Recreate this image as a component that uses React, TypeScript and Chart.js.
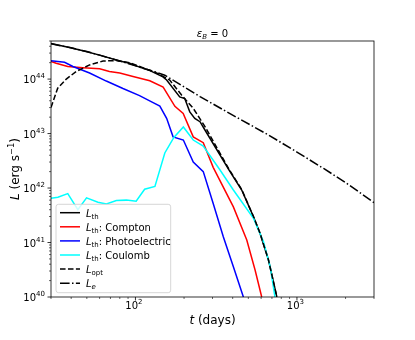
import React, { useEffect, useRef } from "react";
import { Chart, registerables } from "chart.js";

Chart.register(...registerables);

// ---- data (t in days, L in erg/s) ----
const T_TH = [30, 39, 47.3, 60, 80, 92, 106, 123, 148, 156, 188, 202, 217, 233, 251, 270, 380, 455, 538, 591, 666, 751];
const L_TH = [4.5e44, 3.8e44, 3.3e44, 2.75e44, 2.15e44, 1.95e44, 1.66e44, 1.43e44, 1.1e44, 9.6e43, 4.7e43, 4.4e43, 2.5e43, 1.9e43, 1.65e43, 1.15e43, 2.14e42, 9.2e41, 2.97e41, 1.47e41, 4.8e40, 1e40];

const T_COMPTON = [30, 32.3, 38.1, 47.3, 60, 69, 80, 96.6, 122.7, 148.4, 175.5, 197.5, 228, 263, 303, 404, 489, 551, 605];
const L_COMPTON = [2.11e44, 1.95e44, 1.7e44, 1.62e44, 1.55e44, 1.38e44, 1.29e44, 1.12e44, 9.3e43, 7.1e43, 3.16e43, 2.34e43, 8.7e42, 6.8e42, 2.4e42, 4.5e41, 1.11e41, 3.1e40, 1e40];

const T_PHOTO = [30, 36.4, 41, 52, 66, 83.7, 106, 128.6, 141.6, 156, 171, 198, 228, 263, 303, 350, 404, 466];
const L_PHOTO = [2.17e44, 2.04e44, 1.7e44, 1.29e44, 9.2e43, 6.7e43, 4.98e43, 3.7e43, 3.2e43, 1.9e43, 8.7e42, 7.6e42, 3.0e42, 2.0e42, 5.2e41, 1.28e41, 3.6e40, 1e40];

const T_COULOMB = [30, 33.1, 38.1, 44, 49.8, 58.6, 66.1, 76.2, 87.9, 101, 114, 132, 152, 173, 198, 228, 263, 334, 404, 538, 620, 683, 731];
const L_COULOMB = [6.5e41, 6.8e41, 7.9e41, 4.0e41, 6.6e41, 5.5e41, 5.1e41, 5.9e41, 6.0e41, 5.75e41, 9.5e41, 1.07e42, 4.4e42, 8.5e42, 1.32e43, 7.6e42, 5.9e42, 2.14e42, 9.2e41, 2.78e41, 1.04e41, 3.6e40, 1e40];

const T_OPT = [30, 33, 37.3, 43, 52, 63, 76, 92, 111, 135, 148, 163, 193, 228, 270, 380, 455, 538, 591, 666, 751];
const L_OPT = [3.0e43, 6.8e43, 1.0e44, 1.38e44, 1.82e44, 2.14e44, 2.19e44, 2.0e44, 1.62e44, 1.3e44, 1.12e44, 9.6e43, 5.1e43, 2.9e43, 1.33e43, 2.2e42, 9.4e41, 3.0e41, 1.48e41, 4.8e40, 1e40];

const T_E = [30, 40, 50, 60, 80, 106, 123, 152, 251, 385, 667, 1000, 1462, 2000, 3000];
const L_E = [4.45e44, 3.75e44, 3.2e44, 2.75e44, 2.15e44, 1.66e44, 1.45e44, 1.18e44, 4.77e43, 2.32e43, 9.4e42, 4.57e42, 2.29e42, 1.26e42, 5.4e41];

const LEGEND_SUB = ["th", "th", "th", "th", "opt", "e"];
const LEGEND_SUB_ITALIC = [false, false, false, false, false, true];
const LEGEND_SUFFIX = ["", ": Compton", ": Photoelectric", ": Coulomb", "", ""];

const X_MIN = 30, X_MAX = 3000;
const Y_MIN = 1e40, Y_MAX = 5e44;

const FONT = '"DejaVu Sans"';

type Part = { t: string; s: number; it?: boolean; dy?: number };

function fontOf(p: Part) {
  return `${p.it ? "italic " : ""}${p.s}px ${FONT}`;
}
function richWidth(ctx: CanvasRenderingContext2D, parts: Part[]) {
  let w = 0;
  for (const p of parts) {
    ctx.font = fontOf(p);
    w += ctx.measureText(p.t).width;
  }
  return w;
}
function drawRich(ctx: CanvasRenderingContext2D, parts: Part[], x: number, y: number, align: "left" | "center" | "right") {
  const w = richWidth(ctx, parts);
  let cx = align === "left" ? x : align === "center" ? x - w / 2 : x - w;
  ctx.textAlign = "left";
  ctx.textBaseline = "alphabetic";
  for (const p of parts) {
    ctx.font = fontOf(p);
    ctx.fillText(p.t, cx, y + (p.dy || 0));
    cx += ctx.measureText(p.t).width;
  }
}

function logTicks(min: number, max: number) {
  const out: { value: number; major: boolean }[] = [];
  const e0 = Math.floor(Math.log10(min));
  const e1 = Math.ceil(Math.log10(max));
  for (let e = e0; e <= e1; e++) {
    for (let m = 1; m <= 9; m++) {
      const v = m * Math.pow(10, e);
      if (v >= min * 0.9999 && v <= max * 1.0001) out.push({ value: v, major: m === 1 });
    }
  }
  return out;
}

const pts = (t: number[], l: number[]) => t.map((x, i) => ({ x, y: l[i] }));

const decorPlugin = {
  id: "decor",
  afterDatasetsDraw(chart: any) {
    const { ctx, chartArea: a, scales } = chart;
    const xs = scales.x, ys = scales.y;
    ctx.save();
    ctx.fillStyle = "#000";
    ctx.strokeStyle = "#000";
    // x ticks
    for (const tk of xs.ticks) {
      const px = xs.getPixelForValue(tk.value);
      ctx.lineWidth = tk.major ? 0.8 : 0.6;
      const len = tk.major ? 3.5 : 2;
      ctx.beginPath();
      ctx.moveTo(px, a.bottom);
      ctx.lineTo(px, a.bottom + len);
      ctx.stroke();
      if (tk.major) {
        const ex = Math.round(Math.log10(tk.value));
        drawRich(ctx, [{ t: "10", s: 10 }, { t: String(ex), s: 7, dy: -5 }], px - 1.5, a.bottom + 12.3, "center");
      }
    }
    // y ticks
    for (const tk of ys.ticks) {
      const py = ys.getPixelForValue(tk.value);
      ctx.lineWidth = tk.major ? 0.8 : 0.6;
      const len = tk.major ? 3.5 : 2;
      ctx.beginPath();
      ctx.moveTo(a.left, py);
      ctx.lineTo(a.left - len, py);
      ctx.stroke();
      if (tk.major) {
        const ex = Math.round(Math.log10(tk.value));
        drawRich(ctx, [{ t: "10", s: 10 }, { t: String(ex), s: 7, dy: -5 }], a.left - 6, py + 4.4, "right");
      }
    }
    // frame
    ctx.lineWidth = 0.8;
    ctx.strokeRect(a.left, a.top, a.right - a.left, a.bottom - a.top);

    // title
    drawRich(ctx, [
      { t: "\u03B5", s: 10, it: true },
      { t: "B", s: 7, it: true, dy: 2 },
      { t: " = 0", s: 10 },
    ], (a.left + a.right) / 2, a.top - 4.3, "center");

    // x label
    drawRich(ctx, [{ t: "t", s: 12, it: true }, { t: " (days)", s: 12 }], (a.left + a.right) / 2, a.bottom + 27.3, "center");

    // y label
    ctx.save();
    ctx.translate(19, (a.top + a.bottom) / 2);
    ctx.rotate(-Math.PI / 2);
    drawRich(ctx, [
      { t: "L", s: 12, it: true },
      { t: " (erg s", s: 12 },
      { t: "\u22121", s: 8.4, dy: -5.5 },
      { t: ")", s: 12 },
    ], 0, 0, "center");
    ctx.restore();

    // legend
    const bx = a.left + 5, by = 204.3, bw = 114.7, bh = 88.4;
    ctx.beginPath();
    const r = 2.5;
    ctx.moveTo(bx + r, by);
    ctx.lineTo(bx + bw - r, by);
    ctx.arcTo(bx + bw, by, bx + bw, by + r, r);
    ctx.lineTo(bx + bw, by + bh - r);
    ctx.arcTo(bx + bw, by + bh, bx + bw - r, by + bh, r);
    ctx.lineTo(bx + r, by + bh);
    ctx.arcTo(bx, by + bh, bx, by + bh - r, r);
    ctx.lineTo(bx, by + r);
    ctx.arcTo(bx, by, bx + r, by, r);
    ctx.closePath();
    ctx.fillStyle = "rgba(255,255,255,0.8)";
    ctx.fill();
    ctx.strokeStyle = "#cccccc";
    ctx.lineWidth = 0.8;
    ctx.stroke();

    const dsets = chart.data.datasets;
    for (let i = 0; i < dsets.length; i++) {
      const ds = dsets[i];
      const cy = 212.7 + i * 14.1;
      ctx.beginPath();
      ctx.setLineDash(ds.borderDash || []);
      ctx.strokeStyle = ds.borderColor;
      ctx.lineWidth = 1.5;
      ctx.moveTo(bx + 4, cy);
      ctx.lineTo(bx + 24, cy);
      ctx.stroke();
      ctx.setLineDash([]);
      ctx.fillStyle = "#000";
      drawRich(ctx, [
        { t: "L", s: 10, it: true },
        { t: LEGEND_SUB[i], s: 7, it: LEGEND_SUB_ITALIC[i], dy: 2.2 },
        { t: LEGEND_SUFFIX[i], s: 10 },
      ], bx + 30, cy + 4, "left");
    }
    ctx.restore();
  },
};

export default function App() {
  const ref = useRef<HTMLCanvasElement | null>(null);
  useEffect(() => {
    if (!ref.current) return;
    const base = { pointRadius: 0, borderWidth: 1.5, tension: 0, showLine: true, fill: false };
    const chart = new Chart(ref.current, {
      type: "scatter",
      data: {
        datasets: [
          { ...base, label: "L_th", data: pts(T_TH, L_TH), borderColor: "#000000", backgroundColor: "#000000", order: 5 },
          { ...base, label: "L_th: Compton", data: pts(T_COMPTON, L_COMPTON), borderColor: "#ff0000", backgroundColor: "#ff0000", order: 4 },
          { ...base, label: "L_th: Photoelectric", data: pts(T_PHOTO, L_PHOTO), borderColor: "#0000ff", backgroundColor: "#0000ff", order: 3 },
          { ...base, label: "L_th: Coulomb", data: pts(T_COULOMB, L_COULOMB), borderColor: "#00ffff", backgroundColor: "#00ffff", order: 2 },
          { ...base, label: "L_opt", data: pts(T_OPT, L_OPT), borderColor: "#000000", backgroundColor: "#000000", borderDash: [5.55, 2.4], order: 1 },
          { ...base, label: "L_e", data: pts(T_E, L_E), borderColor: "#000000", backgroundColor: "#000000", borderDash: [9.6, 2.4, 1.5, 2.4], order: 0 },
        ] as any,
      },
      options: {
        animation: false,
        responsive: false,
        devicePixelRatio: 1,
        layout: { padding: { top: 41, right: 41, left: 0, bottom: 0 } },
        plugins: { legend: { display: false }, tooltip: { enabled: false }, title: { display: false } },
        scales: {
          x: {
            type: "logarithmic",
            min: X_MIN,
            max: X_MAX,
            grid: { display: false },
            border: { display: false },
            ticks: { display: false },
            afterBuildTicks: (s: any) => { s.ticks = logTicks(s.min, s.max); },
            afterFit: (s: any) => { s.height = 43; },
          },
          y: {
            type: "logarithmic",
            min: Y_MIN,
            max: Y_MAX,
            grid: { display: false },
            border: { display: false },
            ticks: { display: false },
            afterBuildTicks: (s: any) => { s.ticks = logTicks(s.min, s.max); },
            afterFit: (s: any) => { s.width = 51; },
          },
        },
      } as any,
      plugins: [decorPlugin],
    });
    return () => chart.destroy();
  }, []);
  return (
    <div style={{ position: "fixed", left: 0, top: 0, width: 415, height: 340, background: "#fff" }}>
      <canvas ref={ref} width={415} height={340} style={{ display: "block" }} />
    </div>
  );
}
